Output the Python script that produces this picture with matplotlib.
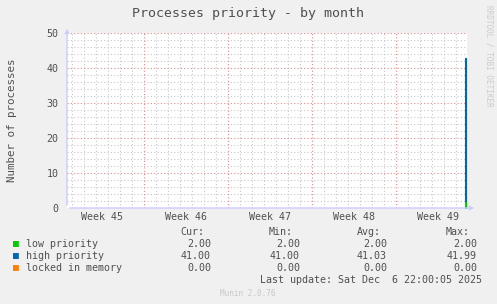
import matplotlib.pyplot as plt
import numpy as np

# time in days relative to Mon Dec 1 00:00, last update Sat Dec 6 22:00
t_end = 5.917
t_start = t_end - 400 * 2 / 24.0
times = [5.72, 5.80]
low = [2.0, 2.0]
high = [41.0, 41.0]
locked = [0.0, 0.0]

names = ['low priority', 'high priority', 'locked in memory']
colors = ['#00CC00', '#0066B3', '#FF8000']
cur = ['2.00', '41.00', '0.00']
mins = ['2.00', '41.00', '0.00']
avgs = ['2.00', '41.03', '0.00']
maxs = ['2.00', '41.99', '0.00']

week_starts = [-21, -14, -7, 0]
week_labels = ['Week 45', 'Week 46', 'Week 47', 'Week 48', 'Week 49']
week_centers = [-24.5, -17.5, -10.5, -3.5, 3.5]

txt = '#505050'
plt.rcParams['font.family'] = 'DejaVu Sans Mono'

fig = plt.figure(figsize=(4.97, 3.04), dpi=100, facecolor='#F0F0F0')
W, H = 497.0, 304.0
ax = fig.add_axes([67 / W, 1 - 208 / H, 400 / W, 175 / H])
ax.set_facecolor('white')
ax.set_xlim(t_start, t_end)
ax.set_ylim(0, 50)

# grid
for d in np.arange(np.ceil(t_start), t_end, 1.0):
    if d in week_starts:
        continue
    ax.axvline(d, color='#C8C8C8', lw=0.8, ls=(0, (1, 2)), zorder=0)
for y in range(2, 50, 2):
    if y % 10:
        ax.axhline(y, color='#C8C8C8', lw=0.8, ls=(0, (1, 2)), zorder=0)
for d in week_starts:
    ax.axvline(d, color='#EE8888', lw=0.8, ls=(0, (1, 2)), zorder=1)
for y in range(10, 51, 10):
    ax.axhline(y, color='#EE8888', lw=0.8, ls=(0, (1, 2)), zorder=1)

# stacked data
x = np.array(times)
b0 = np.zeros(len(x))
b1 = b0 + np.array(low)
b2 = b1 + np.array(high)
b3 = b2 + np.array(locked)
ax.fill_between(x, b0, b1, color=colors[0], lw=0.8, edgecolor=colors[0], zorder=3)
ax.fill_between(x, b1, b2, color=colors[1], lw=0.8, edgecolor=colors[1], zorder=3)
ax.fill_between(x, b2, b3, color=colors[2], lw=0, zorder=3)

for s in ax.spines.values():
    s.set_visible(False)
ax.tick_params(length=0, colors=txt, labelsize=7.2)
ax.set_yticks(range(0, 51, 10))
ax.set_xticks(week_centers)
ax.set_xticklabels(week_labels)
ax.tick_params(axis='x', pad=3)
ax.tick_params(axis='y', pad=6)

# axis arrows
ax.annotate('', xy=(0, 1.04), xytext=(0, 0), xycoords='axes fraction',
            arrowprops=dict(arrowstyle='-|>', color='#CCCCFF', lw=1, mutation_scale=6))
ax.annotate('', xy=(1.025, 0), xytext=(0, 0), xycoords='axes fraction',
            arrowprops=dict(arrowstyle='-|>', color='#CCCCFF', lw=1, mutation_scale=6))

fig.text(12 / W, 1 - 120 / H, 'Number of processes', ha='center', va='center',
         rotation=90, color=txt, fontsize=7.8)
fig.text(248 / W, 1 - 14 / H, 'Processes priority - by month', ha='center', va='center',
         color=txt, fontsize=9.5)
fig.text(489 / W, 1 - 5 / H, 'RRDTOOL / TOBI OETIKER', ha='center', va='top',
         rotation=270, color='#CCCCCC', fontsize=5.5)

fs = 7.2
for xr, head in [(204, 'Cur:'), (293, 'Min:'), (381, 'Avg:'), (470, 'Max:')]:
    fig.text(xr / W, 1 - 232 / H, head, ha='right', va='center', color=txt, fontsize=fs)
for i, name in enumerate(names):
    yy = 1 - (244 + 12 * i) / H
    fig.text(13 / W, yy, '\u25A0', ha='left', va='center', color=colors[i], fontsize=7)
    fig.text(26 / W, yy, name, ha='left', va='center', color=txt, fontsize=fs)
    for xr, vals in [(211, cur), (300, mins), (387, avgs), (477, maxs)]:
        fig.text(xr / W, yy, vals[i], ha='right', va='center', color=txt, fontsize=fs)
fig.text(482 / W, 1 - 280 / H, 'Last update: Sat Dec  6 22:00:05 2025', ha='right',
         va='center', color=txt, fontsize=fs)
fig.text(248 / W, 1 - 293 / H, 'Munin 2.0.76', ha='center', va='center',
         color='#C8C8C8', fontsize=5.5)

fig.savefig('out.png', dpi=100, facecolor=fig.get_facecolor())
